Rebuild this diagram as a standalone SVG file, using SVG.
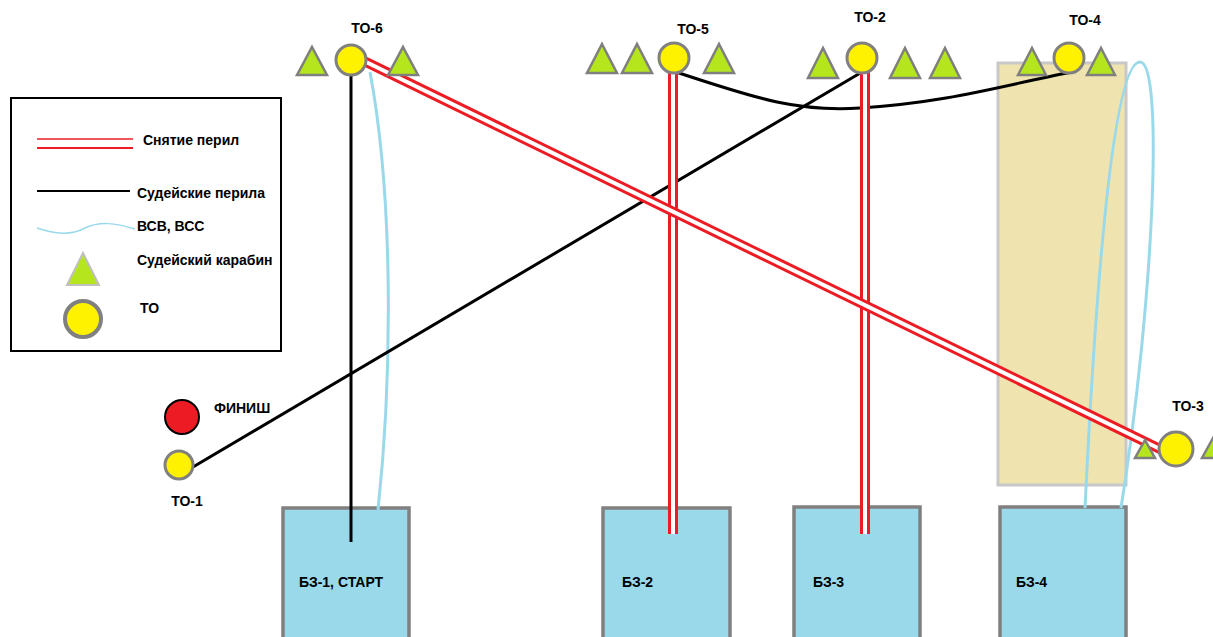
<svg xmlns="http://www.w3.org/2000/svg" width="1213" height="637" viewBox="0 0 1213 637">
<style>
text{font-family:"Liberation Sans",Arial,sans-serif;font-weight:bold;font-size:14px;fill:#000}
.to{fill:#fff200;stroke:#808080;stroke-width:3}
.tri{fill:#b5e61d;stroke:#7f7f7f;stroke-width:2.5;stroke-linejoin:miter}
.bz{fill:#99d9ea;stroke:#808080;stroke-width:3.5}
.blk{stroke:#000;stroke-width:3;fill:none}
.blu{stroke:#99d9ea;stroke-width:3;fill:none}
.rd{stroke:#ed1c24;stroke-width:10;fill:none}
.wh{stroke:#fff;stroke-width:4;fill:none}
</style>
<rect width="1213" height="637" fill="#fff"/>
<!-- zone -->
<rect id="zone" x="998" y="63" width="128" height="422" fill="#efe4b0" stroke="#c8c8c8" stroke-width="3"/>
<!-- stages -->
<g id="bz1"><rect class="bz" x="283" y="508" width="126" height="140"/><text x="299" y="587">БЗ-1, СТАРТ</text></g>
<g id="bz2"><rect class="bz" x="603" y="508" width="127" height="140"/><text x="622" y="587">БЗ-2</text></g>
<g id="bz3"><rect class="bz" x="794" y="507" width="126" height="140"/><text x="813" y="587">БЗ-3</text></g>
<g id="bz4"><rect class="bz" x="1000" y="507" width="126" height="140"/><text x="1016" y="587">БЗ-4</text></g>
<!-- connectors -->
<g id="connectors">
<line class="blk" x1="351" y1="72" x2="351" y2="542"/>
<path class="blu" d="M370,72 C394,200 392,380 378,510"/>
<path class="blk" d="M676,72 C760,100 800,112 860,108 C950,102 1000,86 1072,72"/>
<line class="blk" x1="862" y1="72" x2="193" y2="467"/>
<path class="blu" d="M1085,508 C1095,300 1112,62 1140,62 C1164,62 1154,300 1121,508"/>
<line class="rd" x1="673" y1="70" x2="673" y2="534"/>
<line class="wh" x1="673" y1="70" x2="673" y2="534"/>
<line class="rd" x1="865" y1="70" x2="865" y2="534"/>
<line class="wh" x1="865" y1="70" x2="865" y2="534"/>
<line class="rd" x1="364" y1="61" x2="1162" y2="450"/>
<line class="wh" x1="364" y1="61" x2="1162" y2="450"/>
</g>
<!-- nodes -->
<g id="to6"><polygon class="tri" points="312,47 327,75 297,75"/><polygon class="tri" points="403,47 418,75 388,75"/><circle class="to" cx="351" cy="60" r="15"/><text x="367" y="33" text-anchor="middle">ТО-6</text></g>
<g id="to5"><polygon class="tri" points="602,44 617,73 587,73"/><polygon class="tri" points="637,44 652,73 622,73"/><polygon class="tri" points="719,44 734,73 704,73"/><circle class="to" cx="674" cy="58" r="15"/><text x="693" y="34" text-anchor="middle">ТО-5</text></g>
<g id="to2"><polygon class="tri" points="823,48 838,78 808,78"/><polygon class="tri" points="905,48 920,78 890,78"/><polygon class="tri" points="945,48 960,78 930,78"/><circle class="to" cx="862" cy="58" r="15"/><text x="870" y="22" text-anchor="middle">ТО-2</text></g>
<g id="to4"><polygon class="tri" points="1032,48 1046,75 1018,75"/><polygon class="tri" points="1101,48 1115,75 1087,75"/><circle class="to" cx="1069" cy="58" r="15"/><text x="1085" y="25" text-anchor="middle">ТО-4</text></g>
<g id="to3"><polygon class="tri" points="1145,440 1155,458 1135,458"/><polygon class="tri" points="1213,438 1224,458 1202,458"/><circle class="to" cx="1176" cy="449" r="17"/><text x="1188" y="411" text-anchor="middle">ТО-3</text></g>
<g id="to1"><circle class="to" cx="179" cy="465" r="14"/><text x="187" y="506" text-anchor="middle">ТО-1</text></g>
<g id="finish"><circle cx="182" cy="417" r="17" fill="#ed1c24" stroke="#000" stroke-width="2"/><text x="214" y="413">ФИНИШ</text></g>
<!-- legend -->
<g id="legend">
<rect x="11" y="98" width="270" height="253" fill="#fff" stroke="#000" stroke-width="2"/>
<line x1="37" y1="139" x2="133" y2="139" stroke="#ed1c24" stroke-width="1.5"/>
<line x1="37" y1="148" x2="133" y2="148" stroke="#ed1c24" stroke-width="2"/>
<text x="143" y="145">Снятие перил</text>
<line x1="37" y1="191" x2="130" y2="191" stroke="#000" stroke-width="2"/>
<text x="137" y="198">Судейские перила</text>
<path d="M37,228 C55,234 70,236 85,228 C100,221 115,223 135,229" stroke="#99d9ea" stroke-width="1.5" fill="none"/>
<text x="137" y="231">ВСВ, ВСС</text>
<polygon points="83,253 99,285 67,285" fill="#b5e61d" stroke="#c0c0c0" stroke-width="2"/>
<text x="137" y="265">Судейский карабин</text>
<circle cx="83" cy="319" r="18" fill="#fff200" stroke="#808080" stroke-width="4"/>
<text x="140" y="313">ТО</text>
</g>
</svg>
